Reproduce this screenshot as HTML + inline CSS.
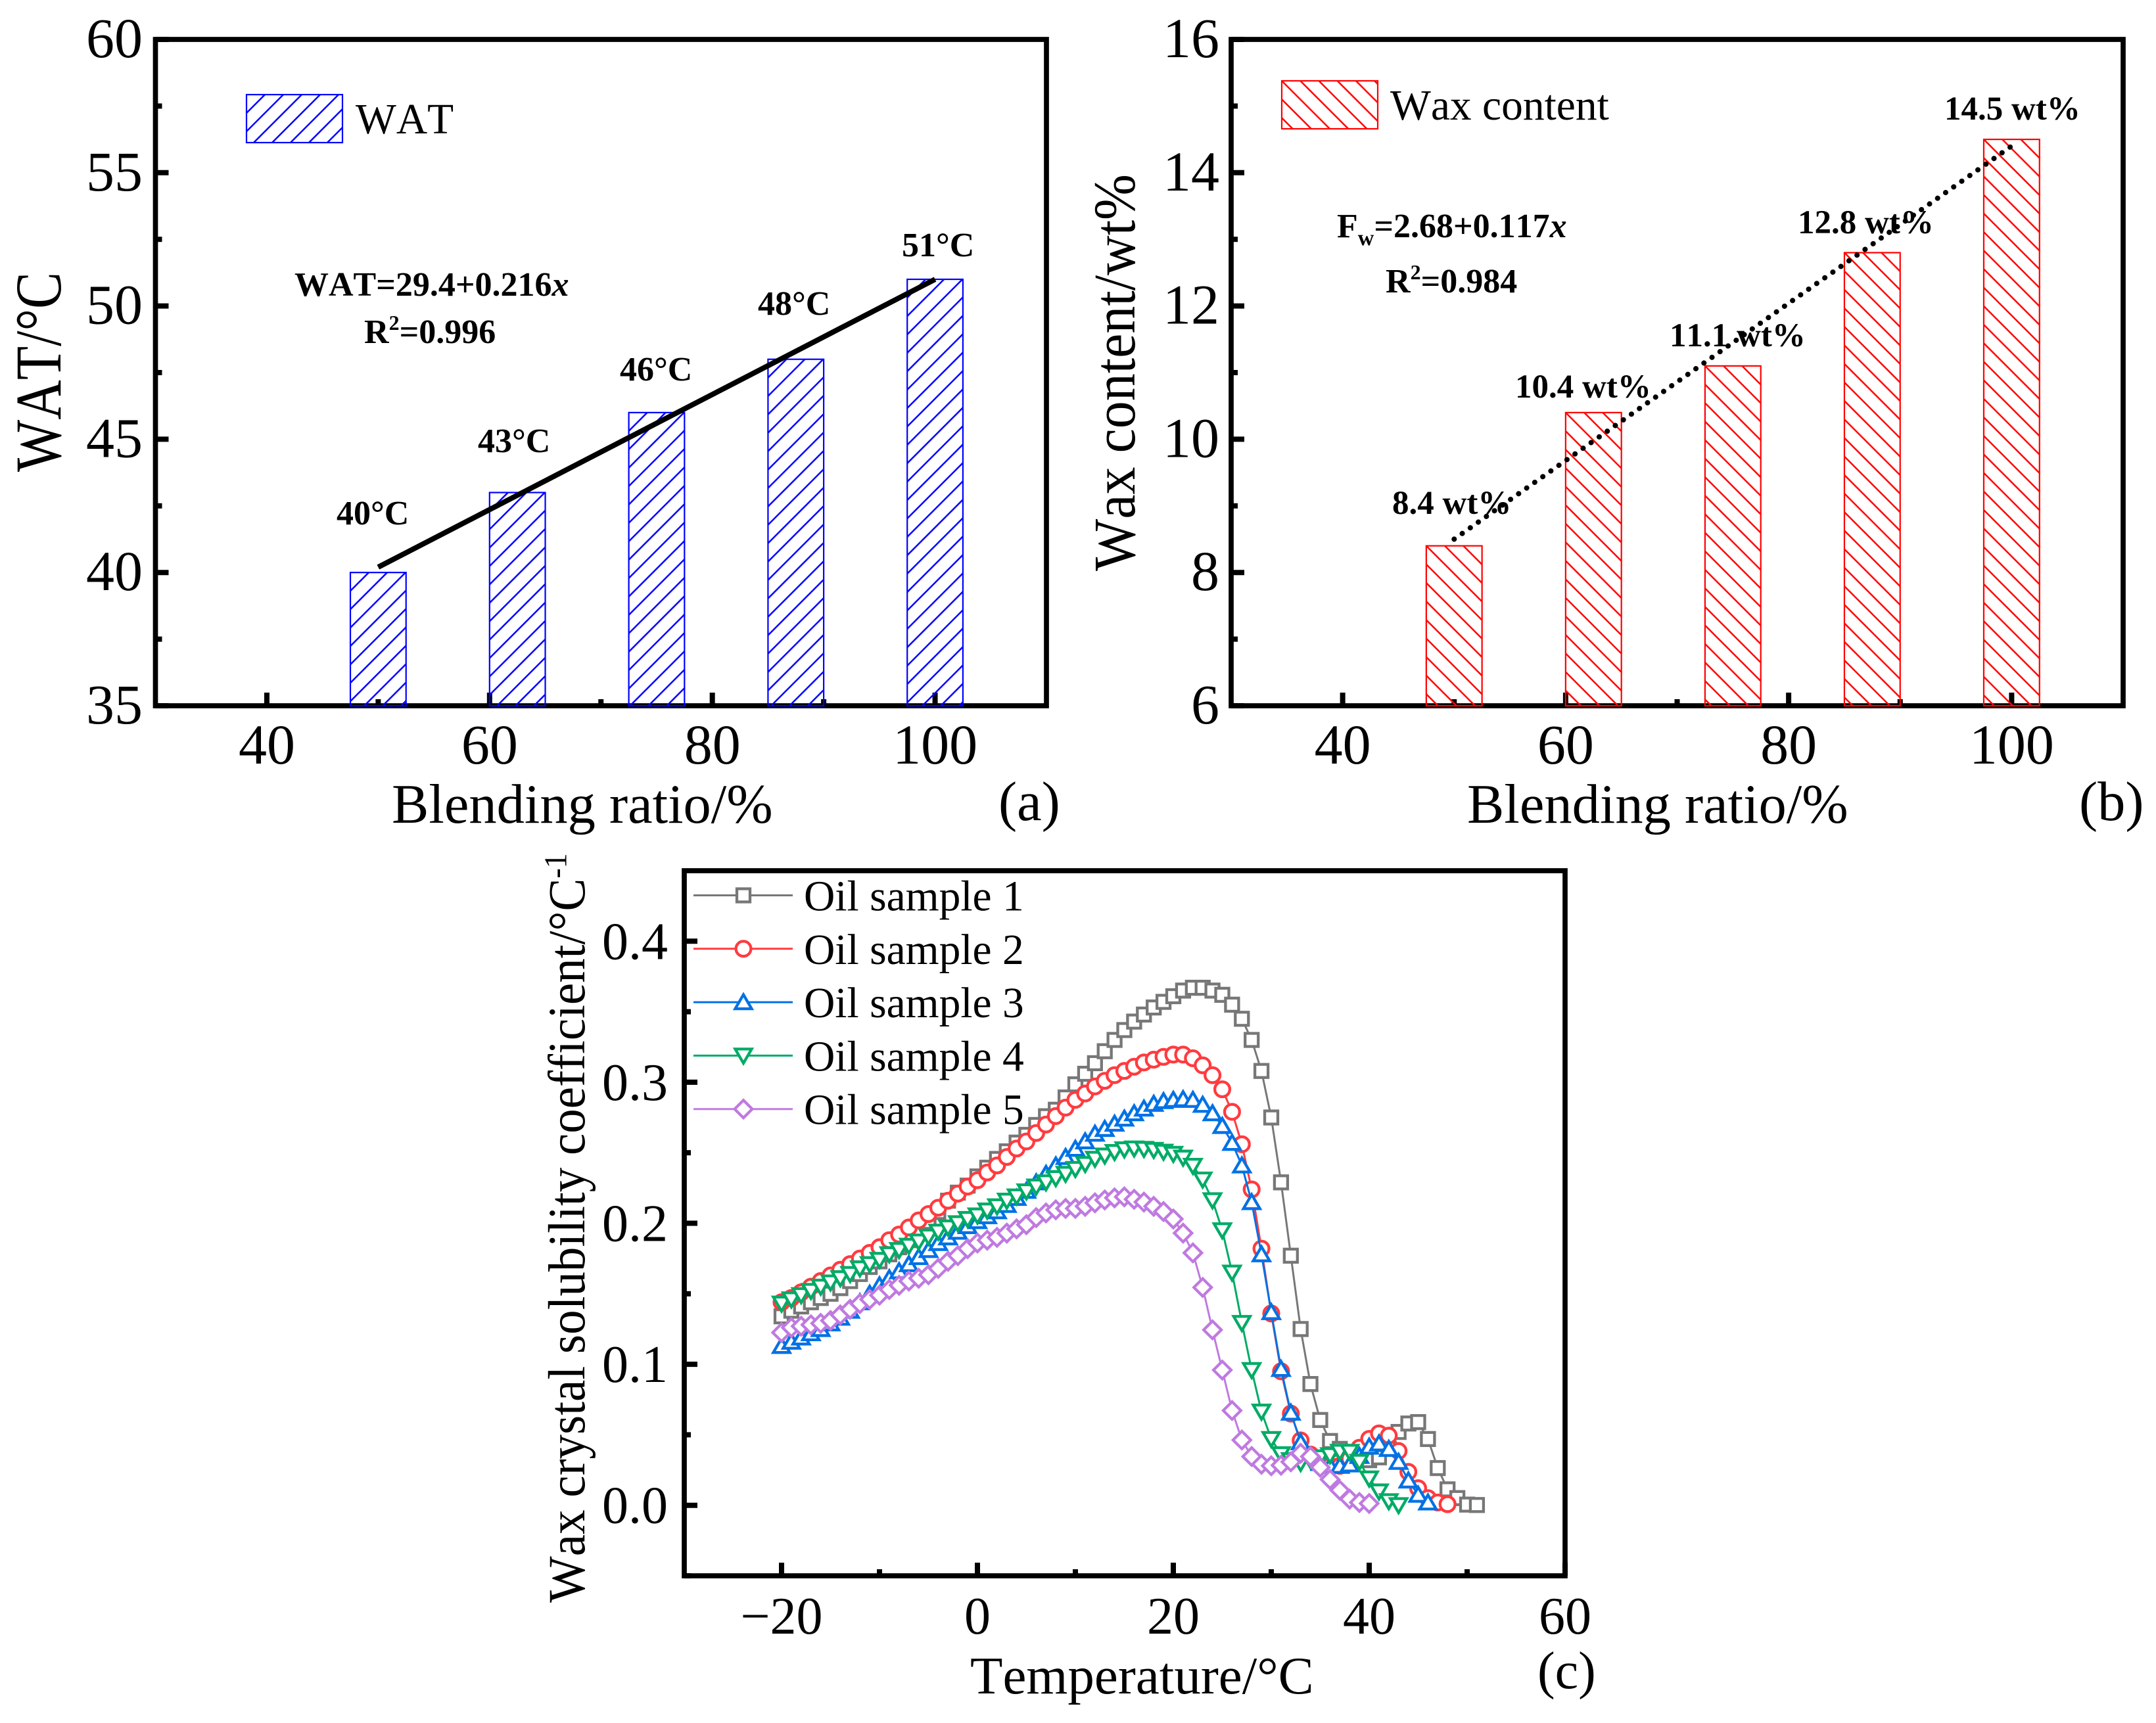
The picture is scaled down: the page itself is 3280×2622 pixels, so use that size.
<!DOCTYPE html>
<html lang="en">
<head>
<meta charset="utf-8">
<title>Wax appearance temperature, wax content and solubility coefficient</title>
<style>
html,body{margin:0;padding:0;background:#fff;width:3280px;height:2622px;overflow:hidden}
svg{display:block}
text{font-family:"Liberation Serif",serif;fill:#000;font-kerning:none}
.tick{font-size:86px}
.tick3{font-size:80px}
.title{font-size:84.5px}
.ann{font-size:52px;font-weight:bold}
.ann2{font-size:51px;font-weight:bold}
.leg{font-size:65.5px}
.leg3{font-size:65.5px}
</style>
</head>
<body>
<svg id="figure" xmlns="http://www.w3.org/2000/svg" width="3280" height="2622" viewBox="0 0 3280 2622">
  <defs>
    <pattern id="hatch-blue" patternUnits="userSpaceOnUse" width="28" height="28">
      <path d="M-2 2L2 -2M0 28L28 0M26 30L30 26" stroke="#0000ff" stroke-width="2.5" fill="none"/>
    </pattern>
    <pattern id="hatch-red" patternUnits="userSpaceOnUse" width="28.2" height="28.2">
      <path d="M0 0L28.2 28.2M-2 26.2L2 30.2M26.2 -2L30.2 2" stroke="#ff0000" stroke-width="2.5" fill="none"/>
    </pattern>
  </defs>

  <g id="panel-a">
    <text font-size="84" text-anchor="middle" transform="translate(92,566) rotate(-90) scale(1,1.18)">WAT/°C</text>
    <text class="title" x="596" y="1252">Blending ratio/%</text>
    <text class="title" x="1519" y="1248">(a)</text>
    <rect transform="translate(375,144)" x="0" y="0" width="146" height="73" fill="url(#hatch-blue)" stroke="#0000ff" stroke-width="2.2"/>
    <text class="leg" x="541" y="203">WAT</text>
    <text class="ann" x="448" y="450">WAT=29.4+0.216<tspan font-style="italic">x</tspan></text>
    <text class="ann" x="554" y="522">R<tspan font-size="32" dy="-20">2</tspan><tspan dy="20">=0.996</tspan></text>
    <text class="ann" x="512" y="798">40°C</text>
    <text class="ann" x="727" y="688">43°C</text>
    <text class="ann" x="943" y="579">46°C</text>
    <text class="ann" x="1153" y="479">48°C</text>
    <text class="ann" x="1372" y="390">51°C</text>
  </g>

  <g id="panel-b">
    <text font-size="84" text-anchor="middle" transform="translate(1726,567) rotate(-90) scale(1,1.07)">Wax content/wt%</text>
    <text class="title" x="2232" y="1252">Blending ratio/%</text>
    <text class="title" x="3163" y="1248">(b)</text>
    <rect transform="translate(1950,123)" x="0" y="0" width="146" height="73" fill="url(#hatch-red)" stroke="#ff0000" stroke-width="2.2"/>
    <text class="leg" x="2115" y="182">Wax content</text>
    <text class="ann" x="2034" y="361">F<tspan font-size="34" dy="12">w</tspan><tspan dy="-12">=2.68+0.117</tspan><tspan font-style="italic">x</tspan></text>
    <text class="ann" x="2108" y="445">R<tspan font-size="32" dy="-20">2</tspan><tspan dy="20">=0.984</tspan></text>
    <text class="ann2" x="2118" y="782">8.4 wt%</text>
    <text class="ann2" x="2305" y="605">10.4 wt%</text>
    <text class="ann2" x="2540" y="527">11.1 wt%</text>
    <text class="ann2" x="2735" y="355">12.8 wt%</text>
    <text class="ann2" x="2958" y="182">14.5 wt%</text>
  </g>

  <g id="panel-c">
    <text font-size="75" transform="translate(889,2439) rotate(-90) scale(1,1.06)">Wax crystal solubility coefficient/°C<tspan font-size="46" dy="-26">-1</tspan></text>
    <text font-size="81" x="1476" y="2577">Temperature/°C</text>
    <text font-size="80" x="2339" y="2569">(c)</text>
  </g>
</svg>

<script>
// Panel (a) data
const blendRatios = [50, 62.5, 75, 87.5, 100];
const watValues = [40, 43, 46, 48, 51];
const watFitEnds = [40.2, 51];
const watYTicks = [35, 40, 45, 50, 55, 60];
const watYMinorTicks = [37.5, 42.5, 47.5, 52.5, 57.5];

// Panel (b) data
const waxValues = [8.4, 10.4, 11.1, 12.8, 14.5];
const waxFitEnds = [8.5, 14.4];
const waxYTicks = [6, 8, 10, 12, 14, 16];
const waxYMinorTicks = [7, 9, 11, 13, 15];

// Shared blending-ratio axis
const ratioTicks = [40, 60, 80, 100];
const ratioMinorTicks = [50, 70, 90];
const fitRatioEnds = [50, 100];

// Panel (c) data
const temperatures = [-20,-19,-18,-17,-16,-15,-14,-13,-12,-11,-10,-9,-8,-7,-6,-5,-4,-3,-2,-1,0,1,2,3,4,5,6,7,8,9,10,11,12,13,14,15,16,17,18,19,20,21,22,23,24,25,26,27,28,29,30,31,32,33,34,35,36,37,38,39,40,41,42,43,44,45,46,47,48,49,50,51];
const oilSample1 = [.134,.138,.141,.144,.147,.150,.154,.159,.164,.169,.173,.178,.183,.188,.195,.201,.208,.216,.2217,.2267,.2332,.2394,.2456,.251,.2572,.2627,.2697,.2759,.2805,.2892,.2985,.306,.3135,.322,.330,.337,.343,.348,.353,.357,.361,.365,.367,.367,.365,.362,.355,.345,.33,.308,.275,.229,.177,.125,.086,.0605,.0456,.040,.036,.033,.032,.034,.040,.052,.058,.059,.047,.0264,.0113,.0051,.0005,.0002];
const oilSample2 = [.144,.147,.151,.155,.159,.163,.167,.171,.175,.179,.183,.188,.192,.197,.202,.2065,.211,.216,.221,.226,.2305,.236,.241,.247,.253,.258,.264,.270,.276,.282,.2875,.292,.297,.301,.305,.308,.311,.314,.316,.318,.3196,.3196,.317,.312,.305,.295,.279,.256,.224,.182,.136,.095,.065,.046,.036,.031,.028,.028,.033,.0408,.0471,.0510,.0494,.0385,.0237,.0121,.0051,.002,.0008];
const oilSample3 = [.113,.116,.119,.122,.125,.129,.133,.138,.144,.150,.156,.161,.166,.171,.176,.181,.186,.190,.194,.198,.2015,.205,.2085,.213,.218,.223,.229,.235,.241,.247,.2528,.2581,.2635,.2669,.2706,.2742,.278,.2813,.2847,.2866,.2875,.288,.2875,.284,.278,.269,.257,.241,.215,.178,.137,.0967,.0657,.0447,.035,.03,.028,.028,.029,.035,.0416,.0439,.04,.0308,.0176,.0075,.002];
const oilSample4 = [.143,.146,.149,.152,.155,.158,.161,.164,.168,.171,.174,.178,.181,.184,.187,.1905,.194,.197,.200,.203,.2055,.209,.212,.216,.219,.2226,.226,.229,.232,.235,.2385,.242,.2457,.248,.2505,.2524,.253,.2527,.252,.2507,.2492,.2465,.2407,.231,.2163,.195,.165,.1293,.0959,.0664,.047,.0362,.032,.030,.032,.034,.0355,.0379,.0379,.0308,.019,.0098,.0029,.0001];
const oilSample5 = [.1225,.126,.127,.128,.129,.131,.135,.139,.143,.146,.149,.153,.156,.159,.161,.1635,.168,.173,.177,.182,.186,.188,.190,.193,.196,.199,.204,.2073,.2095,.2105,.2105,.212,.2145,.2165,.218,.2187,.217,.215,.212,.2083,.203,.193,.179,.1545,.1244,.0959,.0672,.0463,.0346,.0291,.028,.0284,.0308,.0369,.0346,.0269,.0183,.0107,.0044,.002,.0013];
const sampleNames = ['Oil sample 1', 'Oil sample 2', 'Oil sample 3', 'Oil sample 4', 'Oil sample 5'];
const solubilityTicks = [0, 0.1, 0.2, 0.3, 0.4];
const solubilityTickLabels = ['0.0', '0.1', '0.2', '0.3', '0.4'];
const solubilityMinorTicks = [-0.05, 0.05, 0.15, 0.25, 0.35];
const temperatureTicks = [-20, 0, 20, 40, 60];
const temperatureTickLabels = ['\u221220', '0', '20', '40', '60'];
const temperatureMinorTicks = [-10, 10, 30, 50];

const NS = 'http://www.w3.org/2000/svg';
function mk(tag, attrs, parent) {
  const el = document.createElementNS(NS, tag);
  for (const k in attrs) el.setAttribute(k, attrs[k]);
  parent.appendChild(el);
  return el;
}
function scale(d0, d1, r0, r1) { return v => r0 + (v - d0) * (r1 - r0) / (d1 - d0); }

function drawAxes(parent, box, xs, ys, xTicks, xLabels, xMinor, yTicks, yLabels, yMinor, xLabelY, yLabelX, labelClass) {
  xTicks.forEach((t, i) => {
    const tick = mk('line', {x1: xs(t), x2: xs(t), y1: box.b, y2: box.b - 20, stroke: '#000', 'stroke-width': 8}, parent);
    
    
    const lab = mk('text', {class: labelClass, x: xs(t), y: xLabelY, 'text-anchor': 'middle'}, parent);
    lab.textContent = xLabels[i];
    
    
  });
  xMinor.forEach(t => {
    const tick = mk('line', {x1: xs(t), x2: xs(t), y1: box.b, y2: box.b - 10, stroke: '#000', 'stroke-width': 8}, parent);
    
    
  });
  yTicks.forEach((t, i) => {
    const tick = mk('line', {x1: box.l, x2: box.l + 20, y1: ys(t), y2: ys(t), stroke: '#000', 'stroke-width': 8}, parent);
    
    
    const lab = mk('text', {class: labelClass, x: yLabelX, y: ys(t) + 27, 'text-anchor': 'end'}, parent);
    lab.textContent = yLabels[i];
    
    
  });
  yMinor.forEach(t => {
    const tick = mk('line', {x1: box.l, x2: box.l + 10, y1: ys(t), y2: ys(t), stroke: '#000', 'stroke-width': 8}, parent);
    
    
  });
  const frame = mk('rect', {x: box.l, y: box.t, width: box.r - box.l, height: box.b - box.t, fill: 'none', stroke: '#000', 'stroke-width': 7.7}, parent);
  
  
}

function drawBars(parent, xs, ys, base, values, color, hatch) {
  blendRatios.forEach((r, i) => {
    const bx = xs(r - 2.5);
    const by = ys(values[i]);
    const bar = mk('rect', {transform: 'translate(' + bx + ',' + by + ')', x: 0, y: 0, width: xs(r + 2.5) - bx, height: ys(base) - by, fill: hatch, stroke: color, 'stroke-width': 2.2}, parent);
    
    
  });
}

// Panel (a)
const boxA = {l: 236.5, r: 1592, t: 60, b: 1074};
const xA = scale(30, 110, boxA.l, boxA.r);
const yA = scale(35, 60, boxA.b, boxA.t);
const gA = document.getElementById('panel-a');
drawAxes(gA, boxA, xA, yA, ratioTicks, ratioTicks.map(String), ratioMinorTicks, watYTicks, watYTicks.map(String), watYMinorTicks, 1162, 217, 'tick');
drawBars(gA, xA, yA, 35, watValues, '#0000ff', 'url(#hatch-blue)');
const fitA = mk('line', {x1: xA(fitRatioEnds[0]), y1: yA(watFitEnds[0]), x2: xA(fitRatioEnds[1]), y2: yA(watFitEnds[1]), stroke: '#000', 'stroke-width': 8}, gA);



// Panel (b)
const boxB = {l: 1873, r: 3230, t: 60, b: 1074};
const xB = scale(30, 110, boxB.l, boxB.r);
const yB = scale(6, 16, boxB.b, boxB.t);
const gB = document.getElementById('panel-b');
drawAxes(gB, boxB, xB, yB, ratioTicks, ratioTicks.map(String), ratioMinorTicks, waxYTicks, waxYTicks.map(String), waxYMinorTicks, 1162, 1855, 'tick');
drawBars(gB, xB, yB, 6, waxValues, '#ff0000', 'url(#hatch-red)');
const fitB = mk('line', {x1: xB(fitRatioEnds[0]), y1: yB(waxFitEnds[0]), x2: xB(fitRatioEnds[1]), y2: yB(waxFitEnds[1]), stroke: '#000', 'stroke-width': 8, 'stroke-linecap': 'round', 'stroke-dasharray': '0.1 14.9'}, gB);



// Panel (c)
const boxC = {l: 1041, r: 2381, t: 1325, b: 2398};
const xC = scale(-30, 60, boxC.l - 1, boxC.r);
const yC = scale(-0.05, 0.45, boxC.b, boxC.t);
const gC = document.getElementById('panel-c');
drawAxes(gC, boxC, xC, yC, temperatureTicks, temperatureTickLabels, temperatureMinorTicks, solubilityTicks, solubilityTickLabels, solubilityMinorTicks, 2486, 1016, 'tick3');

function drawMarker(parent, kind, cx, cy, color) {
  const style = {fill: '#fff', stroke: color, 'stroke-width': 4.3, 'stroke-linejoin': 'miter'};
  let m;
  if (kind === 'square') {
    m = mk('rect', Object.assign({x: cx - 10, y: cy - 10, width: 20, height: 20}, style), parent);
  } else if (kind === 'circle') {
    m = mk('circle', Object.assign({cx: cx, cy: cy, r: 11.4}, style), parent);
  } else if (kind === 'up') {
    m = mk('polygon', Object.assign({points: [cx, cy - 11.5, cx + 12.5, cy + 10, cx - 12.5, cy + 10].join(' ')}, style), parent);
  } else if (kind === 'down') {
    m = mk('polygon', Object.assign({points: [cx, cy + 11.5, cx + 12.5, cy - 10, cx - 12.5, cy - 10].join(' ')}, style), parent);
  } else {
    m = mk('polygon', Object.assign({points: [cx, cy - 13.4, cx + 13.4, cy, cx, cy + 13.4, cx - 13.4, cy].join(' ')}, style), parent);
  }
  return m;
}

const seriesValues = [oilSample1, oilSample2, oilSample3, oilSample4, oilSample5];
const seriesColors = ['#777777', '#ff3b3f', '#0071e5', '#00ab66', '#bf7ae0'];
const seriesMarkers = ['square', 'circle', 'up', 'down', 'diamond'];

seriesValues.forEach((vals, s) => {
  const g = mk('g', {}, gC);
  
  
  const pts = vals.map((v, i) => xC(temperatures[i]) + ',' + yC(v)).join(' ');
  const line = mk('polyline', {points: pts, fill: 'none', stroke: seriesColors[s], 'stroke-width': 3}, g);
  
  
  vals.forEach((v, i) => {
    const m = drawMarker(g, seriesMarkers[s], xC(temperatures[i]), yC(v), seriesColors[s]);
    
    
  });
});

sampleNames.forEach((name, s) => {
  const cy = 1362.5 + s * 81.3;
  const g = mk('g', {}, gC);
  
  
  const line = mk('line', {x1: 1055, x2: 1206, y1: cy, y2: cy, stroke: seriesColors[s], 'stroke-width': 3}, g);
  
  
  const m = drawMarker(g, seriesMarkers[s], 1131, cy, seriesColors[s]);
  
  
  const t = mk('text', {class: 'leg3', x: 1223, y: cy + 23}, g);
  t.textContent = name;
  
  
});
</script>
</body>
</html>
